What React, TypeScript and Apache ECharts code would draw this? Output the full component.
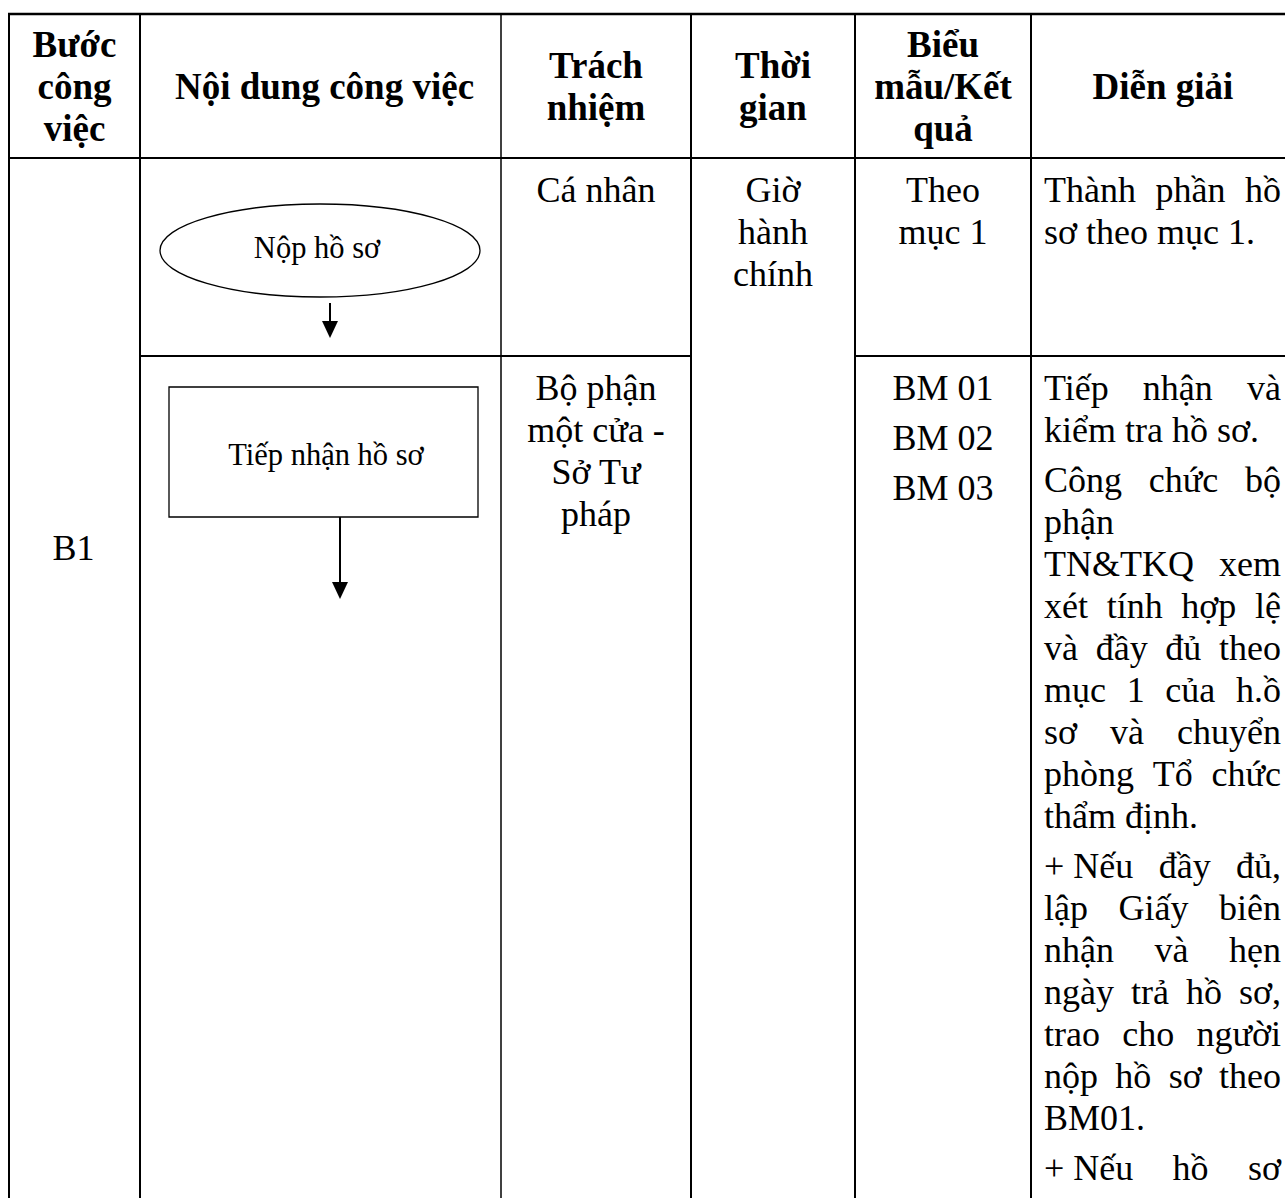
import React, { useEffect, useRef } from "react";
import * as echarts from "echarts";

// ---------- content ----------
const headerCols: string[][] = [
  ["Bước", "công", "việc"],
  ["Nội dung công việc"],
  ["Trách", "nhiệm"],
  ["Thời", "gian"],
  ["Biểu", "mẫu/Kết", "quả"],
  ["Diễn giải"],
];
const stepLabel = "B1";
const flowNodes = ["Nộp hồ sơ", "Tiếp nhận hồ sơ"];
const respRow1 = ["Cá nhân"];
const respRow2 = ["Bộ phận", "một cửa -", "Sở Tư", "pháp"];
const timeLines = ["Giờ", "hành", "chính"];
const formsRow1 = ["Theo", "mục 1"];
const formsRow2 = ["BM 01", "BM 02", "BM 03"];
const explRow1: string[][] = [["Thành phần hồ", "sơ theo mục 1."]];
// "\u00a0" marks a non-stretching space (list marker "+")
const explRow2: string[][] = [
  ["Tiếp nhận và", "kiểm tra hồ sơ."],
  [
    "Công chức bộ",
    "phận",
    "TN&TKQ xem",
    "xét tính hợp lệ",
    "và đầy đủ theo",
    "mục 1 của h.ồ",
    "sơ và chuyển",
    "phòng Tổ chức",
    "thẩm định.",
  ],
  [
    "+\u00a0Nếu đầy đủ,",
    "lập Giấy biên",
    "nhận và hẹn",
    "ngày trả hồ sơ,",
    "trao cho người",
    "nộp hồ sơ theo",
    "BM01.",
  ],
  ["+\u00a0Nếu hồ sơ"],
];
const lastParagraphOpen = true;

// ---------- layout ----------
const W = 1285;
const H = 1198;
const FAM = "Liberation Serif";
const BODY = 36;
const HEAD = 37;
const SMALL = 30.5;
const colX = [9, 140, 501, 691, 855, 1031, 1295];
const TOP = 14;
const HEAD_B = 158;
const ROW1_B = 356;
const LH = 42;
const PGAP = 8;

let measureCtx: CanvasRenderingContext2D | null = null;
function tw(s: string, size: number, weight: string): number {
  if (!measureCtx) measureCtx = document.createElement("canvas").getContext("2d");
  measureCtx!.font = `${weight} ${size}px "${FAM}"`;
  return measureCtx!.measureText(s).width;
}

function txt(text: string, x: number, y: number, size: number, weight: string, align: string) {
  return {
    type: "text",
    x,
    y,
    silent: true,
    style: {
      text,
      fontFamily: FAM,
      fontSize: size,
      fontWeight: weight,
      fill: "#000",
      textAlign: align,
      textVerticalAlign: "middle",
      align,
      verticalAlign: "middle",
    },
  };
}

function buildElements() {
  const els: any[] = [];
  const line = (x1: number, y1: number, x2: number, y2: number, w = 2) =>
    els.push({
      type: "line",
      silent: true,
      shape: { x1, y1, x2, y2 },
      style: { stroke: "#000", lineWidth: w },
    });

  // grid
  line(colX[0] - 1, TOP, colX[6], TOP, 2.5);
  line(colX[0] - 1, HEAD_B, colX[6], HEAD_B, 2);
  line(colX[1], ROW1_B, colX[3], ROW1_B, 2);
  line(colX[4], ROW1_B, colX[6], ROW1_B, 2);
  colX.forEach((x, i) => line(x, TOP, x, H + 10, i === 2 ? 1.5 : 2));

  // header
  const headMid = 86;
  headerCols.forEach((lines, ci) => {
    let cx = (colX[ci] + colX[ci + 1]) / 2;
    if (ci === 1) cx += 4;
    const n = lines.length;
    lines.forEach((t, li) => {
      const y = headMid + (li - (n - 1) / 2) * LH;
      els.push(txt(t, cx, y, HEAD, "bold", "center"));
    });
  });

  // step label
  els.push(txt(stepLabel, (colX[0] + colX[1]) / 2 - 1, 548, BODY, "normal", "center"));

  // flowchart
  els.push({
    type: "ellipse",
    silent: true,
    shape: { cx: 320, cy: 250.5, rx: 160, ry: 46.5 },
    style: { fill: "#fff", stroke: "#000", lineWidth: 1.3 },
  });
  els.push(txt(flowNodes[0], 317, 248, SMALL, "normal", "center"));
  line(330, 303, 330, 324, 2);
  els.push({
    type: "polygon",
    silent: true,
    shape: { points: [[322, 321], [338, 321], [330, 338]] },
    style: { fill: "#000" },
  });
  els.push({
    type: "rect",
    silent: true,
    shape: { x: 169, y: 387, width: 309, height: 130 },
    style: { fill: "#fff", stroke: "#000", lineWidth: 1.3 },
  });
  els.push(txt(flowNodes[1], 326, 455, SMALL, "normal", "center"));
  line(340, 517, 340, 585, 2);
  els.push({
    type: "polygon",
    silent: true,
    shape: { points: [[332, 582], [348, 582], [340, 599]] },
    style: { fill: "#000" },
  });

  // centered columns
  const r1 = 190;
  const r2 = 388;
  const c3 = (colX[2] + colX[3]) / 2;
  const c4 = (colX[3] + colX[4]) / 2;
  const c5 = (colX[4] + colX[5]) / 2;
  respRow1.forEach((t, i) => els.push(txt(t, c3, r1 + i * LH, BODY, "normal", "center")));
  respRow2.forEach((t, i) => els.push(txt(t, c3, r2 + i * LH, BODY, "normal", "center")));
  timeLines.forEach((t, i) => els.push(txt(t, c4, r1 + i * LH, BODY, "normal", "center")));
  formsRow1.forEach((t, i) => els.push(txt(t, c5, r1 + i * LH, BODY, "normal", "center")));
  formsRow2.forEach((t, i) =>
    els.push(txt(t, c5, r2 + i * (LH + PGAP), BODY, "normal", "center"))
  );

  // justified explanation column
  const L = colX[5] + 13;
  const R = colX[6] - 14;
  const justify = (s: string, y: number, just: boolean) => {
    const words = s.split(" ");
    if (!just || words.length === 1) {
      els.push(txt(s, L, y, BODY, "normal", "left"));
      return;
    }
    const ws = words.map((w) => tw(w, BODY, "normal"));
    const total = ws.reduce((a, b) => a + b, 0);
    const gap = (R - L - total) / (words.length - 1);
    let x = L;
    words.forEach((w, i) => {
      els.push(txt(w, x, y, BODY, "normal", "left"));
      x += ws[i] + gap;
    });
  };
  const paragraphs = (paras: string[][], y0: number, openLast: boolean) => {
    let y = y0;
    paras.forEach((p, pi) => {
      p.forEach((s, li) => {
        const isLast = li === p.length - 1 && !(openLast && pi === paras.length - 1);
        justify(s, y, !isLast);
        y += LH;
      });
      y += PGAP;
    });
  };
  paragraphs(explRow1, r1, false);
  paragraphs(explRow2, r2, lastParagraphOpen);

  return els;
}

export default function App() {
  const ref = useRef<HTMLDivElement>(null);
  useEffect(() => {
    if (!ref.current) return;
    const chart = echarts.init(ref.current, undefined, { renderer: "svg" });
    chart.setOption({
      animation: false,
      backgroundColor: "#fff",
      graphic: { elements: buildElements() },
    });
    return () => chart.dispose();
  }, []);
  return (
    <div
      ref={ref}
      style={{ position: "absolute", left: 0, top: 0, width: W, height: H, background: "#fff" }}
    />
  );
}
